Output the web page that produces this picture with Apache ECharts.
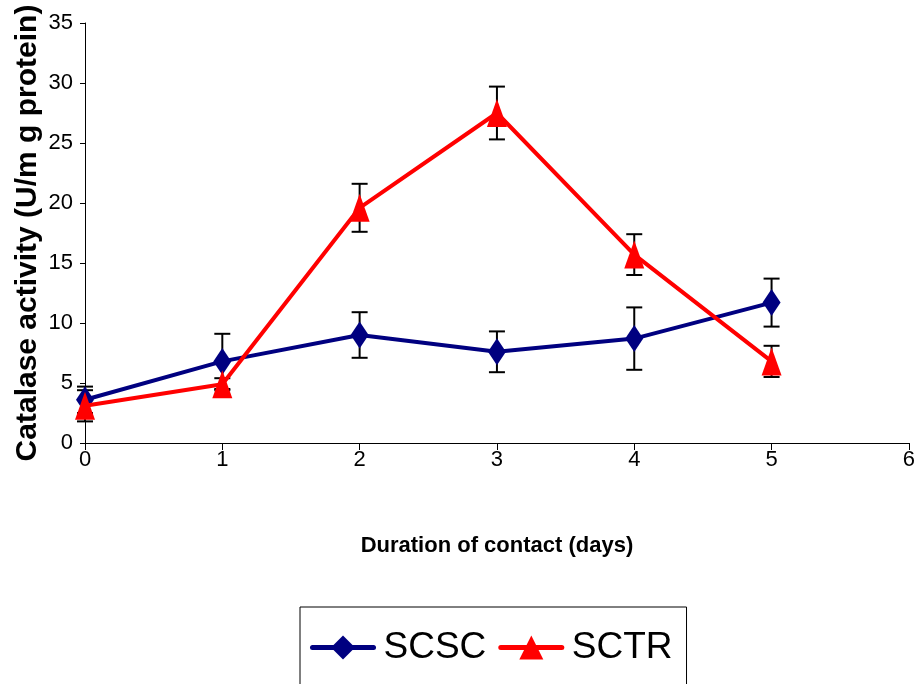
<!DOCTYPE html>
<html>
<head>
<meta charset="utf-8">
<title>Catalase activity</title>
<script src="https://cdn.jsdelivr.net/npm/echarts@6/dist/echarts.min.js"></script>
<style>
  html, body { margin: 0; padding: 0; background: #ffffff; }
  #chart { width: 918px; height: 684px; }
</style>
</head>
<body>
<div id="chart"></div>
<script>
// Duration of contact (days)
const days = [0, 1, 2, 3, 4, 5];
// Catalase activity (U/mg protein), mean and standard error
const scscMean = [3.6, 6.8, 9.0, 7.6, 8.7, 11.7];
const scscErr  = [1.1, 2.3, 1.9, 1.7, 2.6, 2.0];
const sctrMean = [3.1, 4.9, 19.6, 27.5, 15.7, 6.8];
const sctrErr  = [1.3, 0.5, 2.0, 2.2, 1.7, 1.3];
const xTicks = [0, 1, 2, 3, 4, 5, 6];
const yTicks = [0, 5, 10, 15, 20, 25, 30, 35];

const sans = "'Liberation Sans', Arial, sans-serif";

function pairs(means) {
  return days.map((d, i) => [d, means[i]]);
}
function errRows(means, errs) {
  return days.map((d, i) => [d, means[i] - errs[i], means[i] + errs[i]]);
}

// Vertical error bar with horizontal caps
function renderErr(params, api) {
  const x = api.value(0);
  const lo = api.coord([x, api.value(1)]);
  const hi = api.coord([x, api.value(2)]);
  const cap = 8;
  const style = { stroke: '#000000', lineWidth: 2, fill: null };
  return {
    type: 'group',
    children: [
      { type: 'line', shape: { x1: lo[0], y1: lo[1], x2: hi[0], y2: hi[1] }, style },
      { type: 'line', shape: { x1: hi[0] - cap, y1: hi[1], x2: hi[0] + cap, y2: hi[1] }, style },
      { type: 'line', shape: { x1: lo[0] - cap, y1: lo[1], x2: lo[0] + cap, y2: lo[1] }, style }
    ]
  };
}

const chart = echarts.init(document.getElementById('chart'), null, { renderer: 'canvas' });

chart.setOption({
  animation: false,
  backgroundColor: '#ffffff',
  grid: { left: 85, right: 8, top: 23, bottom: 241, containLabel: false },
  xAxis: {
    type: 'value',
    min: xTicks[0],
    max: xTicks[xTicks.length - 1],
    interval: 1,
    name: 'Duration of contact (days)',
    nameLocation: 'middle',
    nameGap: 92,
    nameTextStyle: { fontFamily: sans, fontWeight: 'bold', fontSize: 22, color: '#000000' },
    axisLine: { lineStyle: { color: '#000000', width: 1 } },
    axisTick: { show: true, length: 7, lineStyle: { color: '#000000' } },
    axisLabel: { fontFamily: sans, fontSize: 22, color: '#000000', margin: 6 },
    splitLine: { show: false }
  },
  yAxis: {
    type: 'value',
    min: yTicks[0],
    max: yTicks[yTicks.length - 1],
    interval: 5,
    name: 'Catalase activity (U/m g protein)',
    nameLocation: 'middle',
    nameGap: 42,
    nameMoveOverlap: false,
    nameTextStyle: { fontFamily: sans, fontWeight: 'bold', fontSize: 30, color: '#000000' },
    axisLine: { show: true, lineStyle: { color: '#000000', width: 1 } },
    axisTick: { show: true, length: 5, lineStyle: { color: '#000000' } },
    axisLabel: { fontFamily: sans, fontSize: 22, color: '#000000', margin: 12 },
    splitLine: { show: false }
  },
  legend: {
    left: 300,
    top: 607,
    padding: [22, 14, 22, 10],
    borderColor: '#000000',
    borderWidth: 1,
    itemWidth: 61,
    itemHeight: 30,
    itemGap: 12,
    lineStyle: { width: 5, cap: 'round' },
    textStyle: { fontFamily: sans, fontSize: 37, color: '#000000', padding: [0, 0, 0, 5] },
    data: ['SCSC', 'SCTR']
  },
  series: [
    {
      name: 'SCSC',
      type: 'line',
      data: pairs(scscMean),
      color: '#000080',
      lineStyle: { color: '#000080', width: 4 },
      itemStyle: { color: '#000080' },
      symbol: 'diamond',
      symbolSize: [18, 27],
      z: 3
    },
    {
      name: 'SCTR',
      type: 'line',
      data: pairs(sctrMean),
      color: '#ff0000',
      lineStyle: { color: '#ff0000', width: 4 },
      itemStyle: { color: '#ff0000' },
      symbol: 'triangle',
      symbolSize: [20, 28],
      z: 4
    },
    {
      type: 'custom',
      name: 'SCSC error',
      data: errRows(scscMean, scscErr),
      renderItem: renderErr,
      encode: { x: 0, y: [1, 2] },
      z: 2,
      silent: true
    },
    {
      type: 'custom',
      name: 'SCTR error',
      data: errRows(sctrMean, sctrErr),
      renderItem: renderErr,
      encode: { x: 0, y: [1, 2] },
      z: 2,
      silent: true
    }
  ]
});
</script>
</body>
</html>
